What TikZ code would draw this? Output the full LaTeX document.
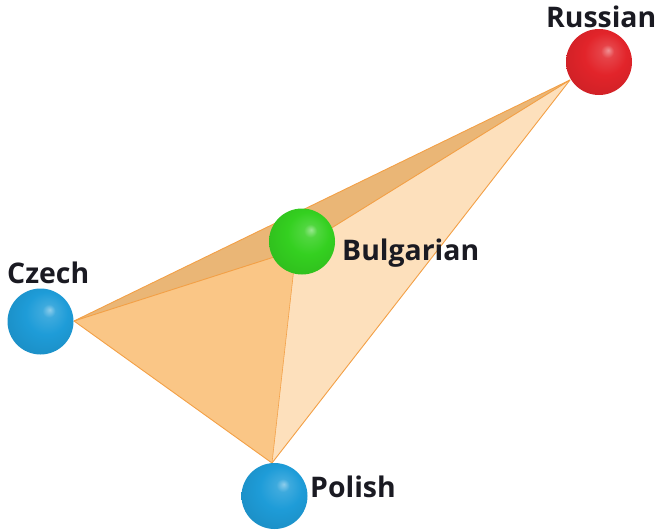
\documentclass[tikz,border=0pt]{standalone}
\usepackage{fontspec}
\setmainfont{Open Sans}
% glossy sphere shading, soft highlight slightly up and to the right
\makeatletter
\pgfdeclareradialshading[tikz@ball]{glossy}{\pgfqpoint{7bp}{9bp}}{%
  color(0bp)=(tikz@ball!50!white);
  color(5bp)=(tikz@ball!86!white);
  color(16bp)=(tikz@ball);
  color(30bp)=(tikz@ball!92!black);
  color(40bp)=(tikz@ball!75!black);
  color(50bp)=(tikz@ball!58!black)}
\makeatother
\definecolor{sphblue}{RGB}{30,156,216}
\definecolor{sphgreen}{RGB}{52,208,32}
\definecolor{sphred}{RGB}{226,36,42}
\definecolor{faceleft}{RGB}{250,198,134}
\definecolor{faceright}{RGB}{253,224,188}
\definecolor{facetop}{RGB}{234,182,118}
\definecolor{edgeorange}{RGB}{243,160,70}
\definecolor{labeltext}{RGB}{26,26,34}
\tikzset{
  sphere/.style={circle, minimum size=66pt, inner sep=0pt, ball color=#1, shading=glossy},
  lang/.style={anchor=base west, inner sep=0pt, font=\fontsize{28.4}{32}\selectfont\bfseries, text=labeltext},
  edge/.style={draw=edgeorange, line width=0.9pt, line join=round},
}
\begin{document}
\begin{tikzpicture}[x=1pt, y=-1pt]
  \useasboundingbox (0,0) rectangle (659,531);
  % tetrahedron corners
  \coordinate (vc) at (74,321);
  \coordinate (vp) at (272,463);
  \coordinate (vr) at (570,80);
  \coordinate (vb) at (296,250);
  % faces
  \fill[faceright] (vb) -- (vr) -- (vp) -- cycle;
  \fill[faceleft] (vc) -- (vb) -- (vp) -- cycle;
  \fill[facetop] (vc) -- (vr) -- (vb) -- cycle;
  % edges
  \path[edge] (vc) -- (vr) -- (vp) -- cycle;
  \path[edge] (vc) -- (vb) -- (vr);
  \path[edge, line width=0.6pt] (vb) -- (vp);
  % spheres
  \node[sphere=sphred] (russian) at (599,62) {};
  \node[sphere=sphgreen] (bulgarian) at (302,241.5) {};
  \node[sphere=sphblue] (czech) at (40.5,321.5) {};
  \node[sphere=sphblue] (polish) at (274.5,496) {};
  % labels
  \node[lang] (lruss) at (546,27) {Russian};
  \node[lang] (lbulg) at (342,260) {Bulgarian};
  \node[lang] (lczech) at (7,283) {Czech};
  \node[lang] (lpol) at (310,497) {Polish};
\end{tikzpicture}
\end{document}
